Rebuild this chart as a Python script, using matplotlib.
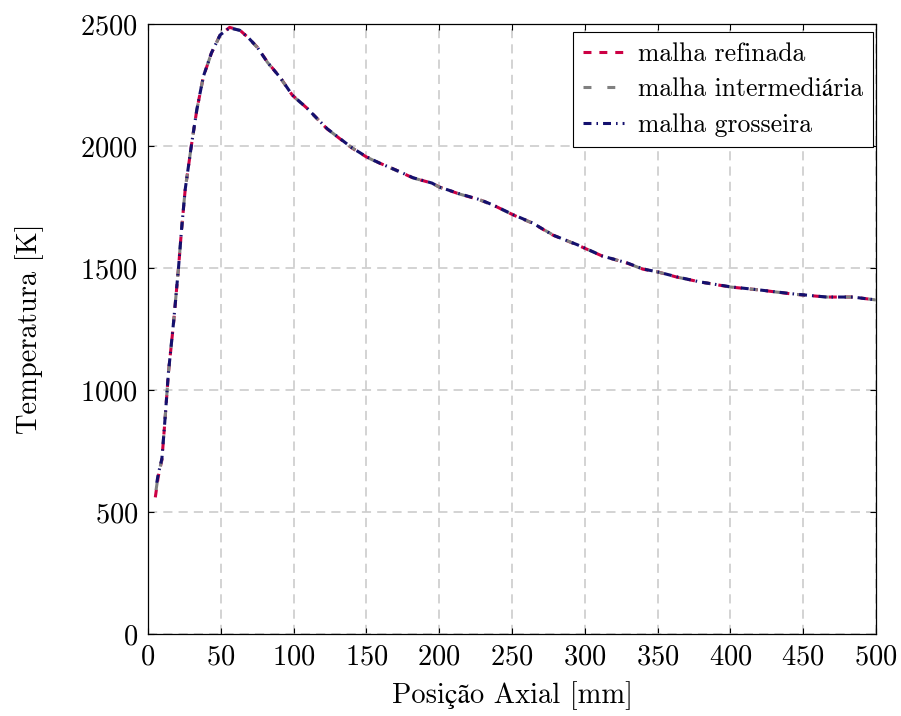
import matplotlib
matplotlib.use("Agg")
import matplotlib.pyplot as plt

# axial temperature profiles for three mesh refinements
pos_ref = [5, 7, 9.5, 11.5, 14, 17.5, 21, 23, 25.5, 30, 33.5, 38, 43.5, 49.5, 56, 63, 69, 75,
           82, 91, 99, 109, 123, 140, 150, 159, 170, 182, 195, 200, 214, 228, 237, 251, 264,
           278, 295, 312, 329, 340, 350, 363, 379, 400, 420, 443, 466, 484, 500]
temp_ref = [560, 645, 713, 865, 1069, 1273, 1505, 1656, 1820, 2011, 2148, 2284, 2380, 2455,
            2486, 2475, 2443, 2405, 2344, 2279, 2209, 2156, 2070, 1992, 1955, 1930, 1902,
            1869, 1848, 1832, 1803, 1779, 1758, 1717, 1684, 1635, 1594, 1549, 1520, 1495,
            1484, 1463, 1443, 1422, 1410, 1393, 1381, 1381, 1369]

pos_int = [5.5, 7, 9.5, 11.5, 14, 17.5, 21, 23, 25.5, 30, 33.5, 38, 43.5, 49.5, 56, 63, 69, 75,
           82, 91, 99, 109, 123, 140, 150, 159, 170, 182, 195, 200, 214, 228, 237, 251, 264,
           278, 295, 312, 329, 340, 350, 363, 379, 400, 420, 443, 466, 484, 500]
temp_int = [590, 650, 716, 867, 1070, 1275, 1506, 1657, 1821, 2012, 2148, 2284, 2380, 2454,
            2485, 2474, 2442, 2404, 2343, 2278, 2208, 2155, 2070, 1993, 1955, 1929, 1901,
            1869, 1848, 1831, 1803, 1779, 1757, 1717, 1684, 1636, 1594, 1550, 1520, 1495,
            1484, 1463, 1443, 1422, 1410, 1393, 1381, 1381, 1369]

pos_gro = [6, 7, 9.5, 11.5, 14, 17.5, 21, 23, 25.5, 30, 33.5, 38, 43.5, 49.5, 56, 63, 69, 75,
           82, 91, 99, 109, 123, 140, 150, 159, 170, 182, 195, 200, 214, 228, 237, 251, 264,
           278, 295, 312, 329, 340, 350, 363, 379, 400, 420, 443, 466, 484, 500]
temp_gro = [620, 655, 718, 868, 1071, 1276, 1506, 1657, 1821, 2012, 2149, 2285, 2381, 2455,
            2484, 2474, 2443, 2405, 2343, 2279, 2209, 2156, 2071, 1993, 1956, 1930, 1902,
            1870, 1848, 1832, 1804, 1780, 1758, 1718, 1685, 1635, 1595, 1549, 1521, 1496,
            1484, 1464, 1443, 1423, 1410, 1394, 1381, 1381, 1369]

x_ticks = [0, 50, 100, 150, 200, 250, 300, 350, 400, 450, 500]
y_ticks = [0, 500, 1000, 1500, 2000, 2500]

# cmr10 has no accented glyphs, STIX fills in ç, ã, á
plt.rcParams['font.family'] = ['cmr10', 'STIXGeneral']
plt.rcParams['axes.unicode_minus'] = False
plt.rcParams['axes.formatter.use_mathtext'] = True

fig = plt.figure(figsize=(9.01, 7.16), dpi=100)
ax = fig.add_axes([0.1643, 0.1145, 0.808, 0.852])

lw = 2.2
ax.plot(pos_ref, temp_ref, color='#cc0044', lw=lw, linestyle=(0, (2.6, 2.6)),
        dash_capstyle='butt', label='malha refinada', zorder=3)
ax.plot(pos_int, temp_int, color='#808080', lw=lw, linestyle=(0, (2.6, 5.2)),
        dash_capstyle='butt', label='malha intermediária', zorder=4)
ax.plot(pos_gro, temp_gro, color='#14106e', lw=lw, linestyle=(0, (2.6, 1.65, 0.5, 1.65)),
        dash_capstyle='butt', label='malha grosseira', zorder=5)

ax.set_xlim(0, 500)
ax.set_ylim(0, 2500)
ax.set_xticks(x_ticks)
ax.set_yticks(y_ticks)
ax.grid(True, color='#c8c8c8', lw=1.1, linestyle=(0, (6, 4)))
ax.set_axisbelow(True)
ax.tick_params(direction='in', length=4.5, width=0.8, top=True, right=True,
               labelsize=20.5, pad=7)
for sp in ax.spines.values():
    sp.set_linewidth(0.9)

ax.set_xlabel('Posição Axial [mm]', fontsize=20.5, labelpad=8)
ax.set_ylabel('Temperatura [K]', fontsize=20.5, labelpad=26)

leg = ax.legend(loc='upper right', bbox_to_anchor=(1 - 3 / 728, 1 - 8 / 610),
                borderaxespad=0, fontsize=18.5, fancybox=False, framealpha=1,
                edgecolor='black', handlelength=1.56, handletextpad=0.55,
                borderpad=0.4, labelspacing=0.45)
leg.get_frame().set_linewidth(0.8)

fig.savefig('out.png', dpi=100)
